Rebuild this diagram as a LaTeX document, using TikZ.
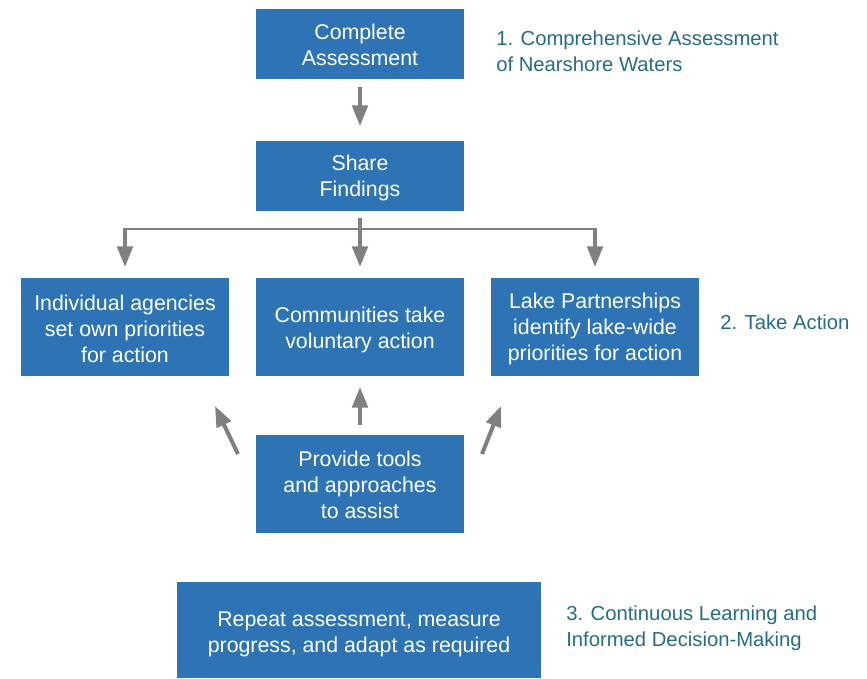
\documentclass[tikz,border=0pt]{standalone}
\usepackage{fontspec}
\setmainfont{Liberation Sans}
\usetikzlibrary{arrows.meta}
\definecolor{boxblue}{HTML}{2E74B5}
\definecolor{labelteal}{HTML}{256C89}
\definecolor{arrowgray}{HTML}{808080}
\begin{document}
\begin{tikzpicture}[x=0.75pt,y=-0.75pt,
  boxtext/.style={text=white,align=center,inner sep=0pt,
    font=\fontsize{16}{19.5}\selectfont},
  stepbox/.style={fill=boxblue,inner sep=0pt,
    minimum width=156pt,minimum height=52.5pt},
  tallbox/.style={stepbox,minimum height=73.5pt},
  phase/.style={text=labelteal,align=left,anchor=west,inner sep=0pt,
    font=\fontsize{15.2}{19.5}\selectfont},
  bigarrow/.style={draw=arrowgray,line width=3pt,
    -{Triangle[width=11.5pt,length=15.5pt]}},
  branch/.style={draw=arrowgray,line width=1.5pt}]
\useasboundingbox (0,0) rectangle (867,678);

% stage 1
\node[stepbox,label={[boxtext,yshift=-1pt]center:{Complete\\Assessment}}] (ca) at (360,44) {};
\node[stepbox,label={[boxtext,yshift=-1.5pt]center:{Share\\Findings}}] (sf) at (360,176) {};

% stage 2
\node[tallbox,label={[boxtext,yshift=-1.5pt]center:{Individual agencies\\set own priorities\\for action}}] (ia) at (125,327) {};
\node[tallbox,label={[boxtext,yshift=-2.25pt]center:{Communities take\\voluntary action}}] (cv) at (360,327) {};
\node[tallbox,label={[boxtext,yshift=-1.5pt]center:{Lake Partnerships\\identify lake-wide\\priorities for action}}] (lp) at (595,327) {};
\node[tallbox,label={[boxtext,yshift=-1pt]center:{Provide tools\\and approaches\\to assist}}] (pt) at (360,484) {};

% stage 3
\node[stepbox,minimum width=273pt,minimum height=72pt,
  label={[boxtext,yshift=-3.5pt]center:{Repeat assessment, measure\\progress, and adapt as required}}] (ra) at (359,630) {};

% phase labels
\node[phase] (p1) at (496,51) {1. Comprehensive Assessment\\of Nearshore Waters};
\node[phase] (p2) at (720,322) {2. Take Action};
\node[phase] (p3) at (566,628) {3. Continuous Learning and\\Informed Decision-Making};

% arrows between boxes
\draw[bigarrow] ([yshift=-6pt]ca.south) -- ([yshift=11pt]sf.north);

\coordinate (bl) at (ia.north |- 0,229);
\coordinate (br) at (lp.north |- 0,229);
\draw[branch] (bl) -- (br);
\draw[bigarrow] ([yshift=-5pt]sf.south) -- ([yshift=8pt]cv.north);
\draw[bigarrow] ([yshift=0.6pt]bl) -- ([yshift=8pt]ia.north);
\draw[bigarrow] ([yshift=0.6pt]br) -- ([yshift=8pt]lp.north);

\draw[bigarrow] ([yshift=7.5pt]pt.north) -- ([yshift=-8pt]cv.south);
\coordinate (dl0) at (238,454);
\coordinate (dl1) at (215,406);
\coordinate (dr0) at (482,454);
\coordinate (dr1) at (501,406);
\draw[bigarrow] (dl0) -- (dl1);
\draw[bigarrow] (dr0) -- (dr1);
\end{tikzpicture}
\end{document}
